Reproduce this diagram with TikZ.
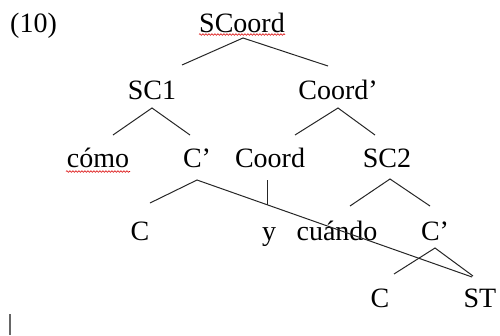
\documentclass[tikz,border=0pt]{standalone}
\usepackage{fontspec}
\setmainfont{Liberation Serif}
\usetikzlibrary{decorations.pathmorphing}
\tikzset{
  lbl/.style={anchor=base, inner sep=0pt, font=\fontsize{28}{34}\selectfont},
  branch/.style={draw=black!85, line width=1pt},
  spell/.style={draw=red!85!black, line width=0.6pt, decorate,
    decoration={snake, amplitude=0.8pt, segment length=3pt}},
  caret/.style={draw=black!60, line width=1.1pt}
}
\begin{document}
\begin{tikzpicture}[x=1pt, y=-1pt]
\useasboundingbox (0,0) rectangle (500,335);

% example number
\node[lbl, anchor=base west] (num) at (10,32) {(10)};

% labels of the tree, row by row
\node[lbl] (scoord) at (242,32) {SCoord};
\node[lbl] (sc1)    at (152,99) {SC1};
\node[lbl] (coordp) at (338,99) {Coord’};
\node[lbl] (como)   at (98,167) {cómo};
\node[lbl] (cp1)    at (197,167) {C’};
\node[lbl] (coord)  at (270,167) {Coord};
\node[lbl] (sc2)    at (387,167) {SC2};
\node[lbl] (c1)     at (140,240) {C};
\node[lbl] (y)      at (269,240) {y};
\node[lbl] (cuando) at (337,240) {cuándo};
\node[lbl] (cp2)    at (435,240) {C’};
\node[lbl] (c2)     at (380,307) {C};
\node[lbl] (st)     at (480,307) {ST};

% branch points and branch ends
\coordinate (scoord-a) at (243,38);
\coordinate (scoord-l) at (182,65);
\coordinate (scoord-r) at (328,66);
\coordinate (sc1-a)    at (152,108);
\coordinate (sc1-l)    at (113,135);
\coordinate (sc1-r)    at (190,135);
\coordinate (coordp-a) at (338,108);
\coordinate (coordp-l) at (295,135);
\coordinate (coordp-r) at (375,135);
\coordinate (cp1-a)    at (197,180);
\coordinate (cp1-l)    at (150,203);
\coordinate (cp1-r)    at (472,277);
\coordinate (coord-a)  at (267,180);
\coordinate (coord-b)  at (267,205);
\coordinate (sc2-a)    at (390,179);
\coordinate (sc2-l)    at (350,206);
\coordinate (sc2-r)    at (430,206);
\coordinate (cp2-a)    at (435,248);
\coordinate (cp2-l)    at (394,274);
\coordinate (cp2-r)    at (473,276);

% branches
\draw[branch] (scoord-l) -- (scoord-a) -- (scoord-r);
\draw[branch] (sc1-l) -- (sc1-a) -- (sc1-r);
\draw[branch] (coordp-l) -- (coordp-a) -- (coordp-r);
\draw[branch] (cp1-l) -- (cp1-a) -- (cp1-r);
\draw[branch] (coord-a) -- (coord-b);
\draw[branch] (sc2-l) -- (sc2-a) -- (sc2-r);
\draw[branch] (cp2-l) -- (cp2-a) -- (cp2-r);

% spell-check underlines
\coordinate (u1s) at (199,34.5);
\coordinate (u1e) at (285,34.5);
\coordinate (u2s) at (66,171.5);
\coordinate (u2e) at (130,171.5);
\draw[spell] (u1s) -- (u1e);
\draw[spell] (u2s) -- (u2e);

% text cursor
\coordinate (cur-t) at (10,314);
\coordinate (cur-b) at (10,335);
\draw[caret] (cur-t) -- (cur-b);
\end{tikzpicture}
\end{document}
